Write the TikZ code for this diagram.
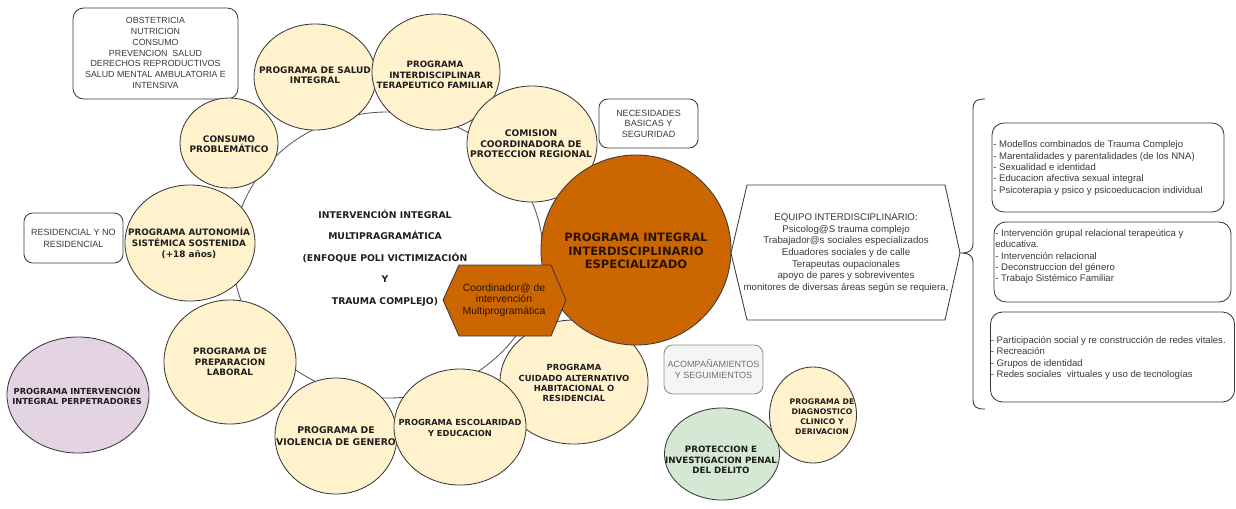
\documentclass[tikz,border=0pt]{standalone}
\usepackage{fontspec}
\setmainfont{Liberation Sans}
\newfontfamily\verd{DejaVu Sans}
\usetikzlibrary{shapes.geometric}
\definecolor{cfill}{HTML}{FFF2CC}
\definecolor{cdraw}{HTML}{36393D}
\definecolor{ctxt}{HTML}{1E1E1E}
\definecolor{orng}{HTML}{CC6600}
\definecolor{otxt}{HTML}{2A1400}
\definecolor{btxt}{HTML}{3A3A3A}
\definecolor{ringc}{HTML}{555555}
\definecolor{pfill}{HTML}{E4D3E2}
\definecolor{gfill}{HTML}{D5E8D4}
\definecolor{afill}{HTML}{F5F5F5}
\definecolor{adraw}{HTML}{8A8A8A}
\definecolor{atxt}{HTML}{707070}
\tikzset{
  circ/.style={ellipse, draw=cdraw, fill=cfill, line width=0.6pt, inner sep=0pt},
  ctext/.style={align=center, inner sep=0pt, text=ctxt, font=\verd\bfseries\fontsize{#1}{7.5}\selectfont},
  ctext/.default=6.3,
  rbox/.style={draw=cdraw, fill=white, line width=0.6pt, rounded corners=0.27cm, inner sep=0pt},
  btext/.style={align=center, inner sep=0pt, text=btxt, font=\fontsize{6.3}{7.6}\selectfont},
  ltext/.style={align=left, inner sep=0pt, text=btxt, font=\fontsize{6.8}{8.1}\selectfont},
}
\begin{document}
\begin{tikzpicture}[x=0.025cm,y=-0.025cm]
\useasboundingbox (0,0) rectangle (1236,508);

% ring behind the circles
\node[draw=ringc, line width=0.6pt, ellipse, inner sep=0pt, minimum width=7.75cm, minimum height=7.15cm] (ring) at (388,255) {};

% left boxes
\node[rbox, minimum width=4.125cm, minimum height=2.275cm] (obst) at (155.5,53.5) {};
\node[btext] (obstt) at (155.5,53) {OBSTETRICIA\\NUTRICION\\CONSUMO\\PREVENCION\ \ SALUD\\DERECHOS REPRODUCTIVOS\\SALUD MENTAL AMBULATORIA E\\INTENSIVA};
\node[rbox, rounded corners=0.22cm, minimum width=2.475cm, minimum height=1.25cm] (resid) at (73.5,238) {};
\node[btext, font=\fontsize{6.4}{8.4}\selectfont] (residt) at (73.5,238) {RESIDENCIAL Y NO\\RESIDENCIAL};
\node[rbox, rounded corners=0.22cm, minimum width=2.475cm, minimum height=1.225cm] (neces) at (648.5,123.5) {};
\node[btext, font=\fontsize{6.4}{7.5}\selectfont] (necest) at (648.5,123.5) {NECESIDADES\\BASICAS Y\\SEGURIDAD};
\node[rbox, rounded corners=0.22cm, draw=adraw, fill=afill, minimum width=2.475cm, minimum height=1.225cm] (acomp) at (713.5,369.5) {};
\node[btext, text=atxt, font=\fontsize{6.4}{7.8}\selectfont] (acompt) at (713.5,369.5) {ACOMPAÑAMIENTOS\\Y SEGUIMIENTOS};

% circles of the ring
\node[circ, minimum width=3.05cm, minimum height=2.65cm] (salud) at (315,77) {};
\node[ctext=6.4] (saludt) at (315,75) {PROGRAMA DE SALUD\\INTEGRAL};
\node[circ, minimum width=3.2cm, minimum height=2.9cm] (interd) at (436,72) {};
\node[ctext=6.2] (interdt) at (435,75) {PROGRAMA\\INTERDISCIPLINAR\\TERAPEUTICO FAMILIAR};
\node[circ, minimum width=3.25cm, minimum height=2.9cm] (comis) at (532,144) {};
\node[ctext=6.5] (comist) at (531,144) {COMISION\\COORDINADORA DE\\PROTECCION REGIONAL};
\node[circ, minimum width=2.45cm, minimum height=2.25cm] (consumo) at (229,143) {};
\node[ctext=6.4] (consumot) at (229,144) {CONSUMO\\PROBLEMÁTICO};
\node[circ, minimum width=3.25cm, minimum height=2.9cm] (auton) at (190,243) {};
\node[ctext=6.3] (autont) at (189,243) {PROGRAMA AUTONOMÍA\\SISTÉMICA SOSTENIDA\\(+18 años)};
\node[circ, minimum width=3.3cm, minimum height=3.1cm] (prep) at (230,362) {};
\node[ctext=6.3] (prept) at (230,362) {PROGRAMA DE\\PREPARACION\\LABORAL};
\node[circ, minimum width=3.05cm, minimum height=2.9cm] (viol) at (336,436) {};
\node[ctext=6.6, font=\verd\bfseries\fontsize{6.6}{8.4}\selectfont] (violt) at (336,436) {PROGRAMA DE\\VIOLENCIA DE GENERO};
\node[circ, minimum width=3.7cm, minimum height=3.1cm] (cuid) at (574,382) {};
\node[ctext=6.0, font=\verd\bfseries\fontsize{6.0}{7.2}\selectfont] (cuidt) at (574,383) {PROGRAMA\\CUIDADO ALTERNATIVO\\HABITACIONAL O\\RESIDENCIAL};
\node[circ, minimum width=3.3cm, minimum height=2.9cm] (escol) at (460,427) {};
\node[ctext=5.9, font=\verd\bfseries\fontsize{5.9}{7.2}\selectfont] (escolt) at (460,428) {PROGRAMA ESCOLARIDAD\\Y EDUCACION};

% main program
\node[circle, draw=cdraw, fill=orng, line width=0.6pt, inner sep=0pt, minimum size=4.75cm] (big) at (636,250) {};
\node[ctext, text=otxt, font=\verd\bfseries\fontsize{8.2}{9.6}\selectfont] (bigt) at (636,251) {PROGRAMA INTEGRAL\\INTERDISCIPLINARIO\\ESPECIALIZADO};

% coordinator hexagon
\coordinate (h1) at (459,265); \coordinate (h2) at (551,265); \coordinate (h3) at (566,300);
\coordinate (h4) at (551,336); \coordinate (h5) at (459,336); \coordinate (h6) at (443,300);
\draw[draw=cdraw, fill=orng, line width=0.6pt] (h1) -- (h2) -- (h3) -- (h4) -- (h5) -- (h6) -- cycle;
\node[align=center, inner sep=0pt, text=otxt, font=\fontsize{7.4}{8.2}\selectfont] (coordt) at (504,300) {Coordinador@ de\\intervención\\Multiprogramática};

% central text
\node[align=center, inner sep=0pt, text=ctxt, font=\verd\bfseries\fontsize{6.6}{15.3}\selectfont] (midt) at (385,258) {INTERVENCIÓN INTEGRAL\\MULTIPRAGRAMÁTICA\\(ENFOQUE POLI VICTIMIZACIÓN\\Y\\TRAUMA COMPLEJO)};

% team hexagon
\coordinate (e1) at (747,185); \coordinate (e2) at (945,185); \coordinate (e3) at (960,253);
\coordinate (e4) at (945,320); \coordinate (e5) at (747,320); \coordinate (e6) at (731,253);
\draw[draw=cdraw, fill=white, line width=0.6pt] (e1) -- (e2) -- (e3) -- (e4) -- (e5) -- (e6) -- cycle;
\node[align=center, inner sep=0pt, text=btxt, font=\fontsize{6.9}{8.3}\selectfont] (equipt) at (846,253) {EQUIPO INTERDISCIPLINARIO:\\Psicolog@S trauma complejo\\Trabajador@s sociales especializados\\Eduadores sociales y de calle\\Terapeutas oupacionales\\apoyo de pares y sobreviventes\\monitores de diversas áreas según se requiera,};

% other circles
\node[ellipse, draw=cdraw, fill=pfill, line width=0.6pt, inner sep=0pt, minimum width=3.55cm, minimum height=2.9cm] (perp) at (78,395) {};
\node[ctext=5.9, font=\verd\bfseries\fontsize{5.9}{7.0}\selectfont] (perpt) at (77,396) {PROGRAMA INTERVENCIÓN\\INTEGRAL PERPETRADORES};
\node[ellipse, draw=cdraw, fill=gfill, line width=0.6pt, inner sep=0pt, minimum width=2.875cm, minimum height=2.3cm] (prot) at (722,454) {};
\node[ctext=6.2] (prott) at (721,460) {PROTECCION E\\INVESTIGACION PENAL\\DEL DELITO};
\node[circ, minimum width=2.175cm, minimum height=2.4cm] (diag) at (813,415) {};
\node[ctext=5.3, font=\verd\bfseries\fontsize{5.5}{7.1}\selectfont] (diagt) at (822,417) {PROGRAMA DE\\DIAGNOSTICO\\CLINICO Y\\DERIVACION};

% brace
\coordinate (bt) at (985,99); \coordinate (btip) at (962,253); \coordinate (bb) at (985,409);
\draw[draw=cdraw, line width=0.6pt] (bt) .. controls (976,99) and (973,101) .. (973,110) -- (973,244)
  .. controls (973,250) and (969,253) .. (btip) .. controls (969,253) and (973,256) .. (973,262)
  -- (973,399) .. controls (973,407) and (976,409) .. (bb);

% right boxes
\node[rbox, rounded corners=0.3cm, minimum width=5.8cm, minimum height=2.225cm] (r1) at (1108,167.5) {};
\node[ltext, anchor=west] (r1t) at (993,168) {- Modellos combinados de Trauma Complejo\\- Marentalidades y parentalidades (de los NNA)\\- Sexualidad e identidad\\- Educacion afectiva sexual integral\\- Psicoterapia y psico y psicoeducacion individual};
\node[rbox, rounded corners=0.3cm, minimum width=5.925cm, minimum height=2.0cm] (r2) at (1112.5,262) {};
\node[ltext, anchor=west] (r2t) at (995,256.5) {- Intervención grupal relacional terapeútica y\\educativa.\\- Intervención relacional\\- Deconstruccion del género\\- Trabajo Sistémico Familiar};
\node[rbox, rounded corners=0.3cm, minimum width=6.1cm, minimum height=2.25cm] (r3) at (1112.5,357) {};
\node[ltext, anchor=west] (r3t) at (990.5,358) {- Participación social y re construcción de redes vitales.\\- Recreación\\- Grupos de identidad\\- Redes sociales\ \ virtuales y uso de tecnologías};
\end{tikzpicture}
\end{document}
